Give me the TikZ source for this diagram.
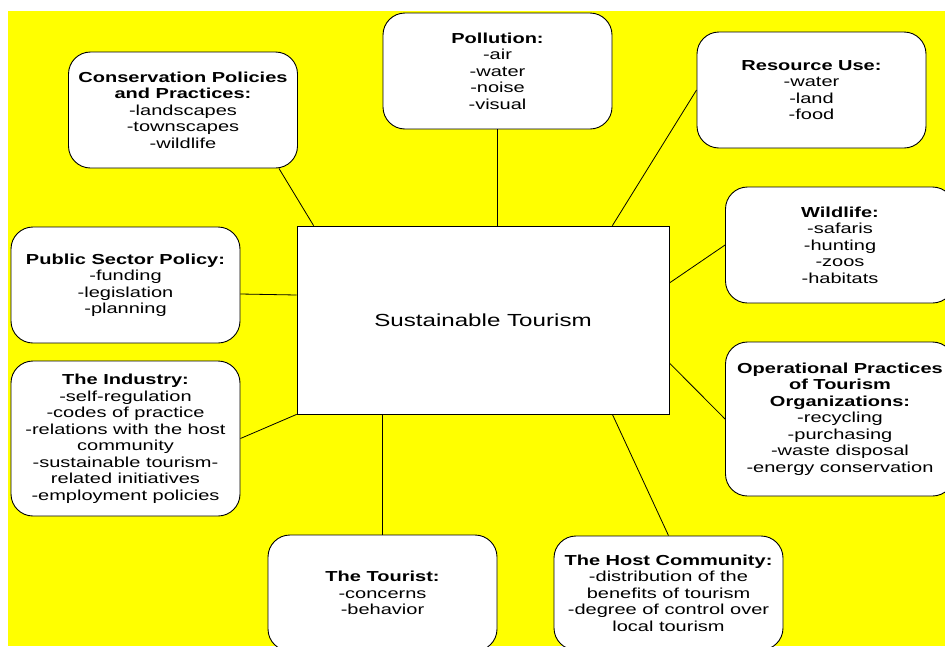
\documentclass[tikz,border=0pt]{standalone}
\usepackage{fontspec}
\setmainfont{Liberation Sans}[FakeStretch=1.38]
\definecolor{canvas}{RGB}{255,255,0}
\begin{document}
\begin{tikzpicture}[x=1pt, y=-1pt,
        topic/.style={draw=black, line width=0.9pt, fill=white, rounded corners=22pt,
            minimum width=229pt, minimum height=116pt, inner sep=2pt, align=center,
            font=\fontsize{14.5}{16.5}\selectfont},
        link/.style={draw=black, line width=0.8pt}]
        \useasboundingbox (0,0) rectangle (945,646);
        \clip (0,0) rectangle (945,646);
        \fill[canvas] (8,11) rectangle (945,646);
        % the central box
        \node[draw=black, line width=0.8pt, fill=white, minimum width=372pt, minimum height=188pt,
            font=\fontsize{17.5}{20}\selectfont] (core) at (483,320) {Sustainable Tourism};
        % the topics round it
        \node[topic] (cons) at (183,110) {\textbf{Conservation Policies}\\\textbf{and Practices:}\\-landscapes\\-townscapes\\-wildlife};
        \node[topic] (poll) at (497.5,71) {\textbf{Pollution:}\\-air\\-water\\-noise\\-visual};
        \node[topic] (res) at (811.5,90) {\textbf{Resource Use:}\\-water\\-land\\-food};
        \node[topic] (wild) at (840,245) {\textbf{Wildlife:}\\-safaris\\-hunting\\-zoos\\-habitats};
        \node[topic] (pub) at (125.5,285) {\textbf{Public Sector Policy:}\\-funding\\-legislation\\-planning};
        \node[topic, minimum height=155pt] (ind) at (125.5,438.5) {\textbf{The Industry:}\\-self-regulation\\-codes of practice\\-relations with the host\\community\\-sustainable tourism-\\related initiatives\\-employment policies};
        \node[topic, minimum height=154pt] (oper) at (840,419) {\textbf{Operational Practices}\\\textbf{of Tourism}\\\textbf{Organizations:}\\-recycling\\-purchasing\\-waste disposal\\-energy conservation};
        \node[topic] (tour) at (382.5,593) {\textbf{The Tourist:}\\-concerns\\-behavior};
        \node[topic, minimum height=114pt] (host) at (668.5,593) {\textbf{The Host Community:}\\-distribution of the\\benefits of tourism\\-degree of control over\\local tourism};
        % connectors
        \draw[link] ([xshift=-19pt]cons.south east) -- ([xshift=17pt]core.north west);
        \draw[link] (poll.south) -- (poll.south |- core.north);
        \draw[link] (res.west) -- ([xshift=-57pt]core.north east);
        \draw[link] (wild.west) -- ([yshift=37pt]core.east);
        \draw[link] ([yshift=-9pt]pub.east) -- ([yshift=25pt]core.west);
        \draw[link] (ind.east) -- (core.south west);
        \draw[link] (tour.north |- core.south) -- (tour.north);
        \draw[link] ([xshift=-57pt]core.south east) -- (host.north);
        \draw[link] ([yshift=-43pt]core.east) -- (oper.west);
\end{tikzpicture}
\end{document}
